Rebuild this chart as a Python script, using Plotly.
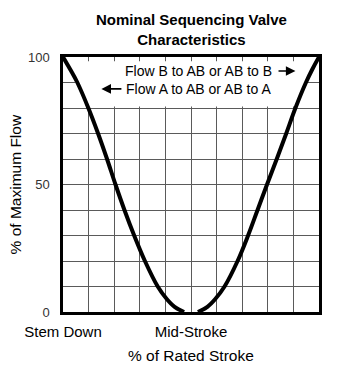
import plotly.graph_objects as go

# Flow curves (% of maximum flow vs % of rated stroke)
flow_a_stroke = [0, 2.9, 5.6, 9.9, 13.7, 17.2, 20.5, 24.0, 27.8, 32.0, 37.0, 40.6, 43.6, 47.3]
flow_a_flow = [100, 95, 90, 80, 70, 60, 50, 40, 30, 20, 10, 5, 2, 0]

flow_b_stroke = [52.7, 56.4, 59.4, 63.1, 68.2, 72.3, 76.0, 79.7, 83.5, 87.2, 90.8, 94.9, 97.3, 100]
flow_b_flow = [0, 2, 5, 10, 20, 30, 40, 50, 60, 70, 80, 90, 95, 100]

# Grid positions and tick labels
grid_vals = [0, 10, 20, 30, 40, 50, 60, 70, 80, 90, 100]
x_tick_text = ["Stem Down", "", "", "", "", "Mid-Stroke", "", "", "", "", "Stem Up"]
y_tick_text = ["0", "", "", "", "", "50", "", "", "", "", "100"]

FONT = "Liberation Sans, Arial, Helvetica, sans-serif"

fig = go.Figure()

for xs, ys in [(flow_a_stroke, flow_a_flow), (flow_b_stroke, flow_b_flow)]:
    fig.add_trace(go.Scatter(
        x=xs, y=ys, mode="lines",
        line=dict(color="black", width=4, shape="spline", smoothing=1.0),
        hoverinfo="skip", showlegend=False, cliponaxis=False,
    ))

# White panel behind the flow direction labels
fig.add_shape(type="rect", xref="x", yref="y", x0=4.7, x1=94.5, y0=80.6, y1=98.3,
              fillcolor="white", line=dict(width=0), layer="between")

fig.add_annotation(x=82.3, y=94.5, xref="x", yref="y", text="Flow B to AB or AB to B",
                   showarrow=False, xanchor="right", yanchor="middle",
                   font=dict(family=FONT, size=14, color="black"))
fig.add_annotation(x=23.9, y=87.5, xref="x", yref="y", text="Flow A to AB or AB to A",
                   showarrow=False, xanchor="left", yanchor="middle",
                   font=dict(family=FONT, size=14, color="black"))

# Direction arrows
fig.add_annotation(x=90.8, y=94.5, ax=83.6, ay=94.5, xref="x", yref="y", axref="x", ayref="y",
                   text="", showarrow=True, arrowhead=2, arrowsize=1.2, arrowwidth=1.6,
                   arrowcolor="black")
fig.add_annotation(x=15.0, y=87.5, ax=23.4, ay=87.5, xref="x", yref="y", axref="x", ayref="y",
                   text="", showarrow=True, arrowhead=2, arrowsize=1.2, arrowwidth=1.6,
                   arrowcolor="black")

# Title and axis titles
fig.add_annotation(x=0.5, y=1.108, xref="paper", yref="paper",
                   text="<b>Nominal Sequencing Valve<br>Characteristics</b>",
                   showarrow=False, xanchor="center", yanchor="middle",
                   font=dict(family=FONT, size=15, color="black"))
fig.add_annotation(x=0.5, y=-0.172, xref="paper", yref="paper", text="% of Rated Stroke",
                   showarrow=False, xanchor="center", yanchor="middle",
                   font=dict(family=FONT, size=15.5, color="black"))
fig.add_annotation(x=-0.184, y=0.5, xref="paper", yref="paper", text="% of Maximum Flow",
                   showarrow=False, xanchor="center", yanchor="middle", textangle=-90,
                   font=dict(family=FONT, size=15.5, color="black"))

axis_common = dict(
    range=[0, 100], tickvals=grid_vals, showgrid=True, gridcolor="#5a5a5a", gridwidth=1,
    zeroline=False, showline=True, linecolor="black", linewidth=2.5, mirror=True,
    ticks="", automargin=False, fixedrange=True,
)

fig.update_xaxes(**axis_common, ticktext=x_tick_text, ticklabelstandoff=4,
                 tickfont=dict(family=FONT, size=15, color="black"))
fig.update_yaxes(**axis_common, ticktext=y_tick_text, ticklabelstandoff=8,
                 tickfont=dict(family=FONT, size=13, color="#333333"))

fig.update_layout(
    width=347, height=365,
    margin=dict(l=63, r=28, t=57, b=53),
    plot_bgcolor="white", paper_bgcolor="white",
    showlegend=False,
)

fig.write_html("out.html")
